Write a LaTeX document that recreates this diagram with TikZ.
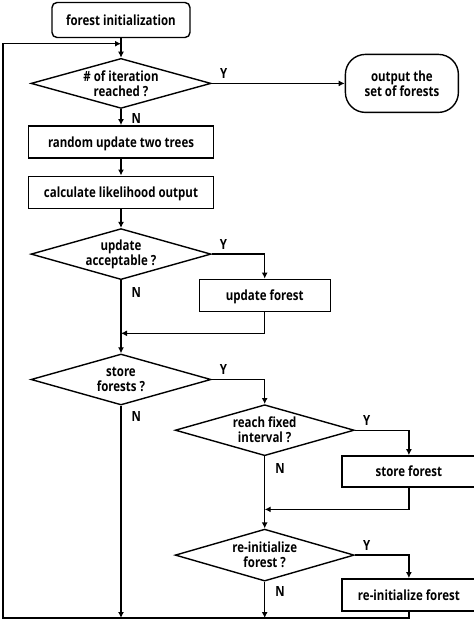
\documentclass[tikz,border=0pt]{standalone}
\usepackage{fontspec}
\setmainfont{Open Sans}
\newfontfamily\chartfamily{Open Sans}[FakeStretch=0.82]
\usetikzlibrary{arrows.meta,calc,positioning,shapes}
\newcommand{\chartfont}{\chartfamily\bfseries\fontsize{14}{15}\selectfont}
\tikzset{
  >={Latex[length=6pt,width=6pt]},
  process/.style={
    draw, inner sep=0pt,
    text depth=0pt,
    minimum width=185pt,
    minimum height=32pt,
    font=\chartfont
  },
  startbox/.style={
    process, rounded corners=5pt,
    minimum width=138pt,
    minimum height=35pt
  },
  terminal/.style={
    process, rounded corners=20pt, align=center,
    minimum width=113pt,
    minimum height=58pt
  },
  decision/.style={
    diamond, draw, aspect=3.6, inner xsep=-10pt, inner ysep=-5pt, align=center,
    minimum width=180pt,
    minimum height=51pt,
    font=\chartfont
  },
  yn/.style={
    font=\chartfont, inner sep=1pt
  }
}

\begin{document}
\begin{tikzpicture}[x=1pt,y=1pt,line width=1.4pt]
  \useasboundingbox (0,0) rectangle (474,-622);

  \node[startbox] (init) at (121,-20) {forest initialization};
  \node[decision,minimum height=50pt,below=19.5pt of init] (d1) {\# of iteration\\reached ?};
  \node[process,below=16pt of d1] (rnd) {random update two trees};
  \node[process,below=17pt of rnd] (calc) {calculate likelihood output};
  \node[decision,below=19pt of calc] (d2) {update\\acceptable ?};
  \node[decision,below=73pt of d2] (d3) {store\\forests ?};

  \node[terminal,right=133pt of d1] (out) {output the\\set of forests};
  \node[process,minimum width=131pt,below=24.5pt of d2.east,xshift=53pt] (upd) {update forest};

  \node[decision,minimum width=179pt,below=24.5pt of d3.east,xshift=53pt] (d4) {reach fixed\\interval ?};
  \node[process,minimum width=134pt,minimum height=31pt,below=25pt of d4.east,xshift=54pt] (store) {store forest};
  \coordinate[below=53pt of d4] (j4);
  \node[decision,minimum width=179pt,minimum height=52pt,below=19pt of j4] (d5) {re-initialize\\forest ?};
  \node[process,minimum width=134pt,below=23pt of d5.east,xshift=54pt] (reinit) {re-initialize forest};

  \coordinate[below=5.5pt of init] (jtop);
  \coordinate[below=53pt of d2] (j2);
  \coordinate (bot) at (3,-618);

  % main column
  \draw (init) -- (jtop);
  \draw[->] (jtop) -- (d1);
  \draw[->] (d1) -- node[yn,right=9pt,pos=.6] (n1) {N} (rnd);
  \draw[->] (rnd) -- (calc);
  \draw[->] (calc) -- (d2);
  \draw (d2) -- node[yn,right=9pt,pos=.23] (n2) {N} (j2);
  \draw[->] (j2) -- (d3);
  \draw[->] (d3) -- node[yn,right=9pt,pos=.05] (n3) {N} (d3.south |- bot);

  % yes branches
  \draw[->] (d1) -- node[yn,above=3pt,pos=.09] (y1) {Y} (out);
  \draw[->] (d2.east) -| node[yn,above=3pt,pos=.11] (y2) {Y} (upd.north);
  \draw[->] (upd) |- (j2);
  \draw[->] (d3.east) -| node[yn,above=3pt,pos=.11] (y3) {Y} (d4.north);
  \draw[->] (d4.east) -| node[yn,above=3pt,pos=.11] (y4) {Y} (store.north);
  \draw (d4) -- node[yn,right=9pt,pos=.23] (n4) {N} (j4);
  \draw[->] (store) |- (j4);
  \draw[->] (j4) -- (d5);
  \draw[->] (d5.east) -| node[yn,above=3pt,pos=.11] (y5) {Y} (reinit.north);
  \draw[->] (d5) -- node[yn,right=9pt,pos=.26] (n5) {N} (d5.south |- bot);

  % loop back
  \draw[->] (reinit) |- (bot) |- (jtop);
\end{tikzpicture}
\end{document}
